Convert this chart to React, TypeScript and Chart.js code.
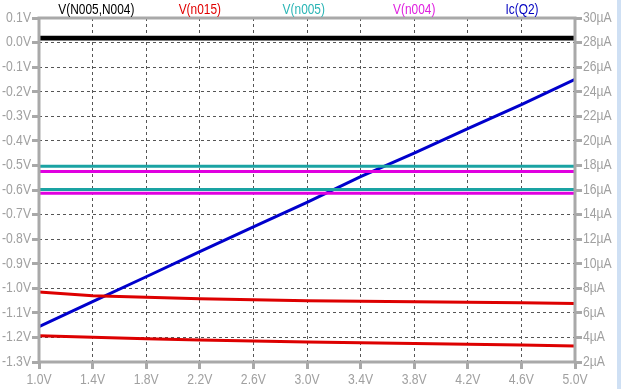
import React, { useEffect, useRef } from "react";
import { Chart, registerables } from "chart.js";
Chart.register(...registerables);

// ---- data ----
const sweepV = [1.0, 1.4, 1.8, 2.2, 2.6, 3.0, 3.4, 3.8, 4.2, 4.6, 5.0];
const icQ2 = [4.87, 6.91, 8.94, 10.98, 13.0, 15.0, 17.08, 19.0, 21.0, 22.95, 25.0];
const vN015Step1 = [-1.015, -1.03, -1.036, -1.043, -1.047, -1.051, -1.053, -1.055, -1.057, -1.059, -1.062];
const vN015Step2 = [-1.193, -1.199, -1.205, -1.21, -1.215, -1.219, -1.222, -1.225, -1.228, -1.231, -1.235];
const vN005Step1 = [-0.503, -0.503, -0.503, -0.503, -0.503, -0.503, -0.503, -0.503, -0.503, -0.503, -0.503];
const vN005Step2 = [-0.598, -0.598, -0.598, -0.598, -0.598, -0.598, -0.598, -0.598, -0.598, -0.598, -0.598];
const vN004Step1 = [-0.525, -0.525, -0.525, -0.525, -0.525, -0.525, -0.525, -0.525, -0.525, -0.525, -0.525];
const vN004Step2 = [-0.613, -0.613, -0.613, -0.613, -0.613, -0.613, -0.613, -0.613, -0.613, -0.613, -0.613];
const vDiffStep1 = [0.022, 0.022, 0.022, 0.022, 0.022, 0.022, 0.022, 0.022, 0.022, 0.022, 0.022];
const vDiffStep2 = [0.015, 0.015, 0.015, 0.015, 0.015, 0.015, 0.015, 0.015, 0.015, 0.015, 0.015];

const seriesNames = ["V(N005,N004)", "V(n015)", "V(n005)", "V(n004)", "Ic(Q2)"];
const seriesColors = ["#000000", "#dd0000", "#1aa3a3", "#e000e0", "#0000cc"];
const legendColors = ["#000000", "#e00000", "#2ab5b5", "#e020e0", "#0000c0"];

const xTickValues = [1.0, 1.4, 1.8, 2.2, 2.6, 3.0, 3.4, 3.8, 4.2, 4.6, 5.0];
const leftTickValues = [0.1, 0.0, -0.1, -0.2, -0.3, -0.4, -0.5, -0.6, -0.7, -0.8, -0.9, -1.0, -1.1, -1.2, -1.3];
const rightTickValues = [30, 28, 26, 24, 22, 20, 18, 16, 14, 12, 10, 8, 6, 4, 2];

const pts = (ys: number[]) => sweepV.map((x, i) => ({ x, y: ys[i] }));

const FONT = "'Liberation Sans', Arial, sans-serif";
const AXIS_GREY = "#a9a9a9";
const LABEL_GREY = "#a0a0a0";

function condensedText(ctx: any, text: string, x: number, y: number, align: string, sx: number) {
  ctx.save();
  ctx.translate(x, y);
  ctx.scale(sx, 1);
  ctx.textAlign = align;
  ctx.fillText(text, 0, 0);
  ctx.restore();
}

export default function App() {
  const ref = useRef<HTMLCanvasElement | null>(null);
  useEffect(() => {
    document.body.style.margin = "0";
    const canvas = ref.current!;
    const framePlugin = {
      id: "frame",
      beforeDraw(chart: any) {
        const ctx = chart.ctx;
        ctx.save();
        ctx.fillStyle = "#ffffff";
        ctx.fillRect(0, 0, chart.width, chart.height);
        ctx.fillStyle = "#cfe0f4";
        ctx.fillRect(617, 0, 4, chart.height);
        ctx.restore();
      },
      afterDatasetsDraw(chart: any) {
        const { ctx, chartArea: a, scales } = chart;
        ctx.save();
        ctx.strokeStyle = AXIS_GREY;
        ctx.lineWidth = 3;
        ctx.setLineDash([]);
        ctx.strokeRect(a.left, a.top, a.right - a.left, a.bottom - a.top);

        // tick labels (condensed like the original)
        ctx.font = "14px " + FONT;
        ctx.fillStyle = LABEL_GREY;
        ctx.textBaseline = "middle";
        const sx = 0.87;
        leftTickValues.forEach((v) => {
          const y = scales.y.getPixelForValue(v);
          condensedText(ctx, v.toFixed(1) + "V", a.left - 8, y, "right", sx);
        });
        rightTickValues.forEach((v) => {
          const y = scales.y1.getPixelForValue(v);
          condensedText(ctx, v + "µA", a.right + 8, y, "left", sx);
        });
        xTickValues.forEach((v) => {
          const x = scales.x.getPixelForValue(v);
          condensedText(ctx, v.toFixed(1) + "V", x, 380, "center", sx);
        });

        // legend titles
        ctx.font = "14px " + FONT;
        const w = a.right - a.left;
        const fr = [0.107, 0.3, 0.494, 0.7, 0.901];
        seriesNames.forEach((n, i) => {
          ctx.fillStyle = legendColors[i];
          condensedText(ctx, n, a.left + w * fr[i], 10, "center", 0.85);
        });
        ctx.restore();
      },
    };
    const lineDs = (label: string, ys: number[], color: string, axis: string, width = 3) => ({
      label,
      data: pts(ys),
      borderColor: color,
      backgroundColor: color,
      borderWidth: width,
      pointRadius: 0,
      tension: 0,
      yAxisID: axis,
    });
    const gridCommon = {
      color: "#555555",
      lineWidth: 1,
      tickColor: AXIS_GREY,
      tickWidth: 3,
      tickLength: 7,
      tickBorderDash: [],
    };
    const hiddenTicks = { display: false, autoSkip: false };
    const chart = new Chart(canvas, {
      type: "line",
      data: {
        datasets: [
          lineDs(seriesNames[2], vN005Step1, seriesColors[2], "y"),
          lineDs(seriesNames[2], vN005Step2, seriesColors[2], "y"),
          lineDs(seriesNames[3], vN004Step1, seriesColors[3], "y"),
          lineDs(seriesNames[3], vN004Step2, seriesColors[3], "y"),
          lineDs(seriesNames[1], vN015Step1, seriesColors[1], "y"),
          lineDs(seriesNames[1], vN015Step2, seriesColors[1], "y"),
          lineDs(seriesNames[0], vDiffStep1, seriesColors[0], "y"),
          lineDs(seriesNames[0], vDiffStep2, seriesColors[0], "y"),
          lineDs(seriesNames[4], icQ2, seriesColors[4], "y1"),
        ],
      },
      options: {
        animation: false,
        responsive: false,
        devicePixelRatio: 1,
        layout: { padding: { top: 18, left: 0, right: 0, bottom: 0 } },
        plugins: { legend: { display: false }, tooltip: { enabled: false } },
        scales: {
          x: {
            type: "linear",
            min: 1,
            max: 5,
            afterBuildTicks: (s: any) => { s.ticks = xTickValues.map((value) => ({ value })); },
            afterFit: (s: any) => { s.height = 27; },
            ticks: hiddenTicks,
            grid: gridCommon,
            border: { display: false, dash: [3, 3] },
          },
          y: {
            type: "linear",
            position: "left",
            min: -1.3,
            max: 0.1,
            afterBuildTicks: (s: any) => { s.ticks = leftTickValues.map((value) => ({ value })); },
            afterFit: (s: any) => { s.width = 39; },
            ticks: hiddenTicks,
            grid: gridCommon,
            border: { display: false, dash: [3, 3] },
          },
          y1: {
            type: "linear",
            position: "right",
            min: 2,
            max: 30,
            afterBuildTicks: (s: any) => { s.ticks = rightTickValues.map((value) => ({ value })); },
            afterFit: (s: any) => { s.width = 46; },
            ticks: hiddenTicks,
            grid: { ...gridCommon, drawOnChartArea: false },
            border: { display: false },
          },
        },
      },
      plugins: [framePlugin],
    } as any);
    return () => chart.destroy();
  }, []);
  return (
    <div style={{ position: "absolute", left: 0, top: 0, width: 621, height: 389 }}>
      <canvas ref={ref} width={621} height={389} style={{ display: "block" }} />
    </div>
  );
}
